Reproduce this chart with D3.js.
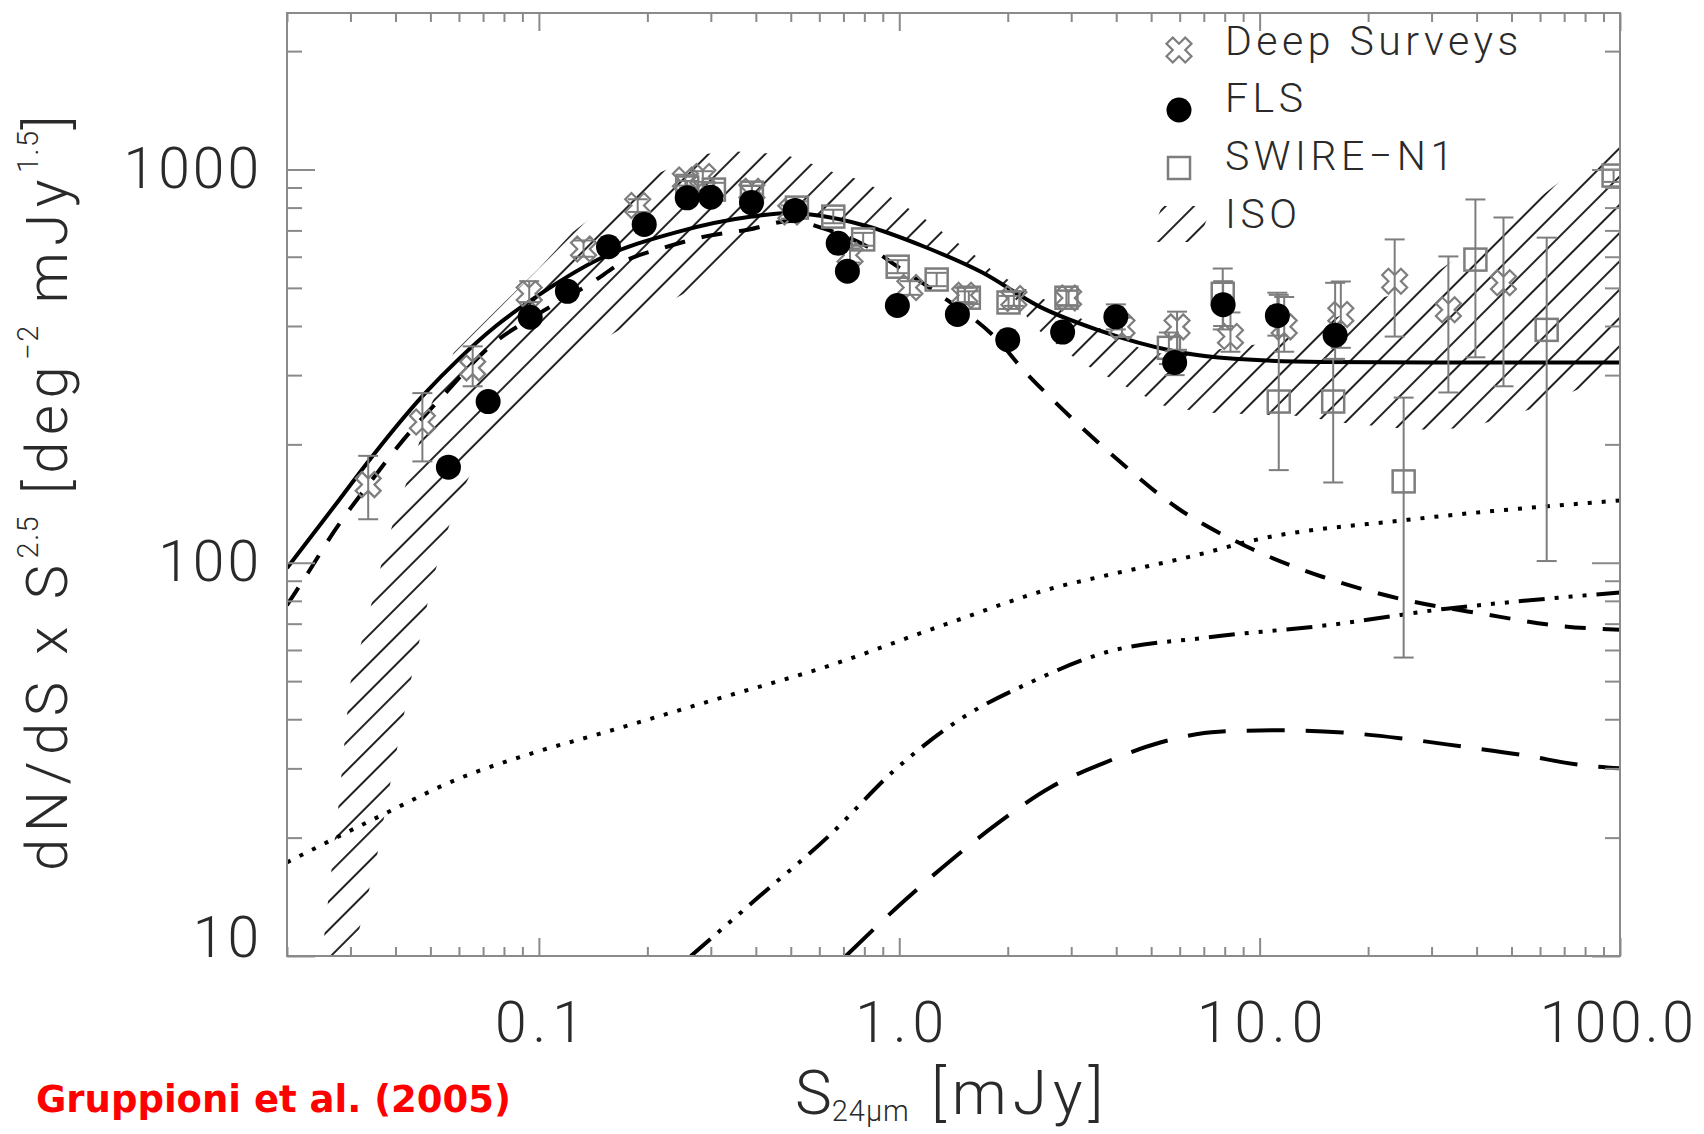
<!DOCTYPE html>
<meta charset="utf-8">
<style>
body { margin: 0; background: #fff; }
svg { display: block; }
.lab { font-family: Roboto, "Liberation Sans", sans-serif; font-weight: 300; fill: #2a2a2a; white-space: pre; }
</style>
<body>
<script src="https://cdn.jsdelivr.net/npm/d3@7/dist/d3.min.js"></script>
<script>
// model curves
var solidX = [0.02, 0.028, 0.033, 0.048, 0.06, 0.076, 0.0975, 0.147, 0.24, 0.39, 0.5, 0.56, 0.82, 1.17, 1.7, 2.45, 3.55, 5.8, 8.5, 15, 30, 100];
var solidY = [97, 145, 177, 268, 330, 400, 472, 592, 692, 759, 775, 769, 716, 637, 547, 448, 391, 345, 330, 324, 323, 323];
var dashX = [0.02, 0.023, 0.027, 0.034, 0.042, 0.053, 0.0745, 0.10, 0.14, 0.17, 0.228, 0.29, 0.38, 0.5, 0.64, 0.815, 0.99, 1.27, 1.92, 2.17, 2.64, 3.95, 5.9, 9.2, 15, 24.5, 42, 69, 100];
var dashY = [78, 95, 120, 160, 205, 260, 360, 430, 515, 580, 637, 676, 703, 740, 700, 637, 566, 486, 360, 315, 262, 186, 138, 110, 92, 81, 74, 69, 67.5];
var dotX = [0.02, 0.0366, 0.0596, 0.097, 0.147, 0.306, 0.638, 1.33, 2.77, 3.59, 6.8, 9.6, 25.8, 100];
var dotY = [17.3, 22.8, 28.2, 32.9, 36.7, 44.8, 54.7, 69.5, 87, 92, 105, 114, 128.6, 144];
var dashDotX = [0.264, 0.41, 0.638, 0.967, 1.47, 2.33, 3.7, 7.2, 15.7, 33, 54, 100];
var dashDotY = [10, 14.2, 20.2, 29.6, 39.9, 49.8, 59, 64.6, 69.5, 76.4, 80, 84];
var longDashX = [0.711, 1.04, 1.39, 1.87, 2.64, 3.65, 5.3, 7.7, 11.4, 17, 24.5, 36.4, 54, 78, 100];
var longDashY = [10, 13.9, 17.5, 21.7, 26.9, 30.8, 34.9, 37.2, 37.5, 37, 35.8, 34.1, 32.4, 30.6, 30];

// ISO hatched band: upper-left and lower-right edges
var isoUpX = [0.0245, 0.0253, 0.0279, 0.0299, 0.0335, 0.0375, 0.0403, 0.044, 0.050, 0.058, 0.0745, 0.10, 0.124, 0.16, 0.20, 0.28, 0.35, 0.40, 0.47, 0.53, 0.60, 0.668, 0.755, 0.855, 0.944, 1.04, 1.15, 1.27, 1.38, 1.52, 1.68, 1.82, 2.5, 3.5, 5.0, 7.0, 10, 13, 20, 27, 53, 100];
var isoUpY = [8, 11, 25, 49, 72, 109, 135, 171, 250, 342, 430, 560, 692, 830, 950, 1091, 1112, 1099, 1099, 1059, 1018, 977, 948, 900, 853, 805, 760, 712, 671, 633, 590, 550, 470, 400, 340, 345, 360, 380, 460, 500, 780, 1220];
var isoLoX = [0.0305, 0.0316, 0.0352, 0.0393, 0.0444, 0.0508, 0.0588, 0.069, 0.086, 0.121, 0.144, 0.2, 0.277, 0.35, 0.45, 0.55, 0.82, 1.17, 1.7, 2.0, 2.35, 3.16, 4.3, 5.4, 7, 13, 17, 27, 38, 60, 82, 100];
var isoLoY = [8, 11.5, 17.1, 29.7, 51.5, 91, 141, 190, 233, 316, 361, 430, 506, 600, 730, 770, 716, 637, 547, 500, 400, 325, 279, 251, 241, 236, 227, 218, 220, 250, 284, 312];

// Deep Surveys
var deepX = [0.0336, 0.0475, 0.0655, 0.094, 0.133, 0.188, 0.255, 0.285, 0.39, 0.50, 0.73, 1.07, 1.52, 2.08, 2.95, 4.15, 5.9, 8.3, 11.7, 16.8, 23.7, 33.4, 47.5];
var deepY = [158, 228, 313, 483, 628, 810, 940, 960, 880, 780, 605, 501, 479, 470, 471, 398, 398, 376, 398, 428, 520, 440, 515];
var deepLo = [129, 181, 281, 460, 600, 780, 910, 930, 850, 750, 580, 480, 460, 450, 450, 375, 348, 344, 344, 352, 376, 271, 281];
var deepHi = [187, 270, 355, 520, 660, 840, 970, 990, 910, 810, 630, 520, 500, 490, 492, 420, 435, 433, 474, 519, 664, 601, 755];

// FLS
var flsX = [0.0561, 0.0723, 0.0946, 0.120, 0.156, 0.196, 0.258, 0.300, 0.389, 0.514, 0.677, 0.718, 0.988, 1.45, 2.00, 2.84, 3.99, 5.81, 7.92, 11.2, 16.2];
var flsY = [175, 257, 421, 490, 636, 725, 847, 850, 824, 787, 649, 551, 451, 428, 369, 386, 422, 323, 453, 425, 379];
var flsLo = [168, 247, 405, 472, 612, 698, 815, 818, 793, 757, 624, 530, 434, 411, 355, 371, 392, 300, 400, 378, 330];
var flsHi = [182, 267, 437, 508, 660, 752, 879, 882, 855, 817, 674, 572, 468, 445, 383, 401, 454, 345, 520, 486, 515];

// SWIRE-N1
var swireX = [0.258, 0.306, 0.39, 0.52, 0.656, 0.794, 0.99, 1.27, 1.56, 2.01, 2.91, 5.6, 7.9, 11.3, 16.0, 25.1, 39.7, 62.6, 96];
var swireY = [900, 889, 873, 800, 759, 664, 566, 525, 472, 459, 472, 352, 483, 257, 257, 161, 590, 391, 965];
var swireLo = [865, 855, 840, 770, 730, 640, 545, 505, 455, 442, 452, 320, 392, 172, 160, 57.4, 333, 101, 930];
var swireHi = [935, 925, 908, 830, 790, 690, 588, 546, 490, 477, 492, 385, 560, 480, 329, 263, 839, 671, 1000];

var legendNames = ["Deep Surveys", "FLS", "SWIRE\u2212N1", "ISO"];

var majorX = [0.1, 1, 10, 100], majorXLabels = ["0.1", "1.0", "10.0", "100.0"];
var majorY = [10, 100, 1000];
var minorX = [], minorY = [];
[0.01, 0.1, 1, 10].forEach(function(d) { for (var k = 2; k < 10; k++) if (d * k >= 0.02 && d * k < 100) minorX.push(d * k); });
[10, 100, 1000].forEach(function(d) { for (var k = 2; k < 10; k++) if (d * k < 2500) minorY.push(d * k); });

var width = 1704, height = 1134;
var svg = d3.select("body").append("svg")
    .attr("width", width)
    .attr("height", height);

var x = d3.scaleLog().domain([0.02, 100]).range([287, 1620]),
    y = d3.scaleLog().domain([10, 2500]).range([956, 13]);

var defs = svg.append("defs");
defs.append("clipPath").attr("id", "plot")
  .append("rect").attr("x", 287).attr("y", 13).attr("width", 1333).attr("height", 943);
var pat = defs.append("pattern").attr("id", "hatch")
    .attr("patternUnits", "userSpaceOnUse")
    .attr("width", 20).attr("height", 20)
    .attr("patternTransform", "rotate(-45)");
pat.append("line").attr("x1", -2).attr("y1", 10).attr("x2", 22).attr("y2", 10)
    .attr("stroke", "#222").attr("stroke-width", 2);

var zip = function(a, b) { return a.map(function(v, i) { return [v, b[i]]; }); };
var line = d3.line().x(function(d) { return x(d[0]); }).y(function(d) { return y(d[1]); });
var smooth = d3.line().x(function(d) { return x(d[0]); }).y(function(d) { return y(d[1]); }).curve(d3.curveMonotoneX);

var plot = svg.append("g").attr("clip-path", "url(#plot)");

// ISO band
var band = zip(isoUpX, isoUpY).concat(zip(isoLoX, isoLoY).reverse());
plot.append("path")
    .attr("d", line(band) + "Z")
    .attr("fill", "url(#hatch)")
    .attr("stroke", "none");

// model curves
var curves = [
  {x: solidX, y: solidY, dash: null, w: 4},
  {x: dashX, y: dashY, dash: "21,17", w: 4},
  {x: dotX, y: dotY, dash: "4,10", w: 4},
  {x: dashDotX, y: dashDotY, dash: "26,10,4,10,4,10,4,10", w: 4},
  {x: longDashX, y: longDashY, dash: "38,21", w: 4}
];
curves.forEach(function(c) {
  plot.append("path")
      .attr("d", smooth(zip(c.x, c.y)))
      .attr("fill", "none")
      .attr("stroke", "#000")
      .attr("stroke-width", c.w)
      .attr("stroke-dasharray", c.dash);
});

// error bars
function errorBars(xs, lo, hi) {
  var g = plot.append("g").attr("stroke", "#7d7d7d").attr("stroke-width", 2);
  xs.forEach(function(v, i) {
    var px = x(v);
    g.append("line").attr("x1", px).attr("x2", px).attr("y1", y(lo[i])).attr("y2", y(hi[i]));
    [lo[i], hi[i]].forEach(function(e) {
      g.append("line").attr("x1", px - 10).attr("x2", px + 10).attr("y1", y(e)).attr("y2", y(e));
    });
  });
}
errorBars(swireX, swireLo, swireHi);
errorBars(deepX, deepLo, deepHi);
errorBars(flsX, flsLo, flsHi);

var crossPath = d3.symbol().type(d3.symbolCross).size(390)();

function drawSquares(g, pts) {
  g.selectAll(".sq").data(pts).enter().append("rect")
      .attr("x", function(d) { return d[0] - 11; })
      .attr("y", function(d) { return d[1] - 11; })
      .attr("width", 22).attr("height", 22)
      .attr("fill", "none").attr("stroke", "#7d7d7d").attr("stroke-width", 2.5);
}
function drawCrosses(g, pts) {
  g.selectAll(".cr").data(pts).enter().append("path")
      .attr("d", crossPath)
      .attr("transform", function(d) { return "translate(" + d[0] + "," + d[1] + ") rotate(45)"; })
      .attr("fill", "none").attr("stroke", "#7d7d7d").attr("stroke-width", 2.2);
}
function drawDots(g, pts) {
  g.selectAll(".dt").data(pts).enter().append("circle")
      .attr("cx", function(d) { return d[0]; })
      .attr("cy", function(d) { return d[1]; })
      .attr("r", 12.5).attr("fill", "#000");
}
var px = function(xs, ys) { return xs.map(function(v, i) { return [x(v), y(ys[i])]; }); };
drawSquares(plot.append("g"), px(swireX, swireY));
drawCrosses(plot.append("g"), px(deepX, deepY));
drawDots(plot.append("g"), px(flsX, flsY));

// axes
function styleAxis(g) {
  g.select(".domain").remove();
  g.selectAll(".tick line").attr("stroke", "#8a8a8a").attr("stroke-width", 2);
  g.selectAll(".tick text").attr("class", "lab").attr("font-size", 57).attr("letter-spacing", 3);
}
var xAxisG = svg.append("g").attr("transform", "translate(0,956)")
    .call(d3.axisBottom(x).tickValues(majorX).tickSize(-18).tickPadding(46)
      .tickFormat(function(d, i) { return majorXLabels[i]; }))
    .call(styleAxis);
xAxisG.selectAll(".tick text").attr("letter-spacing", 6).attr("dx", 3);
xAxisG.selectAll(".tick").filter(function(d) { return d === 100; }).select("text")
    .attr("letter-spacing", 3.5).attr("dx", -2);
svg.append("g").attr("transform", "translate(0,956)")
    .call(d3.axisBottom(x).tickValues(minorX).tickSize(-9).tickFormat("")).call(styleAxis);
svg.append("g").attr("transform", "translate(0,13)")
    .call(d3.axisTop(x).tickValues(majorX).tickSize(-18).tickFormat("")).call(styleAxis);
svg.append("g").attr("transform", "translate(0,13)")
    .call(d3.axisTop(x).tickValues(minorX).tickSize(-9).tickFormat("")).call(styleAxis);
var yAxisG = svg.append("g").attr("transform", "translate(287,0)")
    .call(d3.axisLeft(y).tickValues(majorY).tickSize(-28).tickPadding(25).tickFormat(d3.format("d")))
    .call(styleAxis);
yAxisG.selectAll(".tick").filter(function(d) { return d === 10; }).select("text").attr("y", -18);
svg.append("g").attr("transform", "translate(287,0)")
    .call(d3.axisLeft(y).tickValues(minorY).tickSize(-15).tickFormat("")).call(styleAxis);
svg.append("g").attr("transform", "translate(1620,0)")
    .call(d3.axisRight(y).tickValues(majorY).tickSize(-28).tickFormat("")).call(styleAxis);
svg.append("g").attr("transform", "translate(1620,0)")
    .call(d3.axisRight(y).tickValues(minorY).tickSize(-15).tickFormat("")).call(styleAxis);

svg.append("rect").attr("x", 287).attr("y", 13).attr("width", 1333).attr("height", 943)
    .attr("fill", "none").attr("stroke", "#8a8a8a").attr("stroke-width", 2);

// legend
var lg = svg.append("g");
var legY = [55, 112, 170, 228];
drawCrosses(lg, [[1179, 50]]);
drawDots(lg, [[1179, 110]]);
drawSquares(lg, [[1179, 168]]);
lg.append("path").attr("d", "M1148,242L1162,206L1212,206L1198,242Z").attr("fill", "url(#hatch)");
legendNames.forEach(function(n, i) {
  lg.append("text").attr("class", "lab").attr("x", 1225).attr("y", legY[i])
      .attr("font-size", 41).attr("letter-spacing", 4.5).text(n);
});

// axis titles
var yt = svg.append("text").attr("class", "lab")
    .attr("transform", "translate(67,490) rotate(-90)")
    .attr("text-anchor", "middle").attr("font-size", 58).attr("letter-spacing", 6.5);
yt.append("tspan").text("dN/dS x S");
yt.append("tspan").attr("dy", -29).attr("font-size", 29).attr("letter-spacing", 1.5).text("2.5");
yt.append("tspan").attr("dy", 29).text(" [deg");
yt.append("tspan").attr("dy", -29).attr("font-size", 29).attr("letter-spacing", 1.5).text("\u22122");
yt.append("tspan").attr("dy", 29).text(" mJy");
yt.append("tspan").attr("dy", -29).attr("font-size", 29).attr("letter-spacing", 1.5).text("1.5");
yt.append("tspan").attr("dy", 29).text("]");

var xt = svg.append("text").attr("class", "lab")
    .attr("x", 795).attr("y", 1114).attr("font-size", 62);
xt.append("tspan").text("S");
xt.append("tspan").attr("dy", 7).attr("font-size", 29).attr("letter-spacing", 1).text("24\u03bcm");
xt.append("tspan").attr("dy", -7).attr("letter-spacing", 6).text(" [mJy]");

svg.append("text")
    .attr("x", 36).attr("y", 1112)
    .attr("font-family", "'DejaVu Sans', Verdana, sans-serif")
    .attr("font-weight", "bold").attr("font-size", 37)
    .attr("fill", "#ff0000")
    .text("Gruppioni et al. (2005)");
</script>
